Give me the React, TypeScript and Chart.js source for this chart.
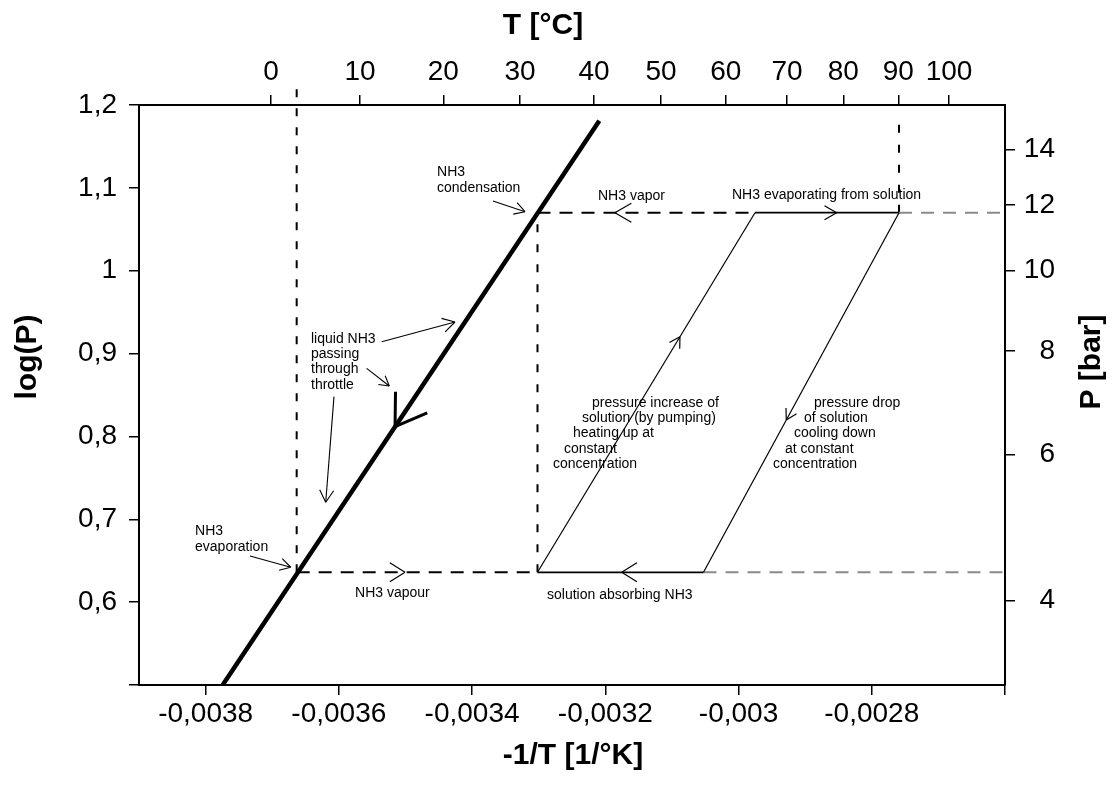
import React, { useEffect, useRef } from 'react';
import { Chart, registerables } from 'chart.js';

Chart.register(...registerables);

const FONT = '"Liberation Sans", Arial, Helvetica, sans-serif';

// ---------- axes ----------
const invTRange = [-0.0039, -0.0026]; // -1/T [1/K]
const logPRange = [0.5, 1.2];
const invTTicks = [-0.0038, -0.0036, -0.0034, -0.0032, -0.003, -0.0028, -0.0026];
const logPTicks = [0.5, 0.6, 0.7, 0.8, 0.9, 1.0, 1.1, 1.2];
const pressureBarTicks = [4, 6, 8, 10, 12, 14];
const tempCelsiusLabels = [0, 10, 20, 30, 40, 50, 60, 70, 80, 90, 100];
const tempTickInvT = [
  -0.0037018, -0.0035682, -0.0034432, -0.003328, -0.003217, -0.0031164,
  -0.0030192, -0.0029272, -0.0028427, -0.0027601, -0.002684,
];

// ---------- data ----------
// NH3 saturation line (thick)
const saturationInvT = [-0.0037744, -0.003209];
const saturationLogP = [0.5, 1.181];
// the two pressure levels of the cycle: low (evaporator/absorber), high (condenser/generator)
const cyclePressureLogP = [0.636, 1.07];
// evaporation, condensation, end of absorption, start of generation, end of generation
const cycleInvT = [-0.0036633, -0.0033018, -0.0030526, -0.0029753, -0.0027591];
// top ends of the dashed guide lines (evaporation, generator end)
const guideTopLogP = [1.2241, 1.1843];

// ---------- annotations ----------
const labelTexts = [
  'NH3', 'condensation', 'NH3 vapor', 'NH3 evaporating from solution',
  'liquid NH3', 'passing', 'through', 'throttle', 'NH3', 'evaporation',
  'NH3 vapour', 'solution absorbing NH3',
  'pressure increase of', 'solution (by pumping)', 'heating up at', 'constant', 'concentration',
  'pressure drop', 'of solution', 'cooling down', 'at constant', 'concentration',
];
const labelInvT = [
  -0.0034526, -0.0034526, -0.003211, -0.0030098,
  -0.0036418, -0.0036418, -0.0036418, -0.0036418, -0.0038159, -0.0038159,
  -0.0035757, -0.0032875,
  -0.00322, -0.003235, -0.0032485, -0.003262, -0.0032785,
  -0.0028867, -0.0029017, -0.0029167, -0.0029302, -0.0029482,
];
const labelLogP = [
  1.1191, 1.0998, 1.0902, 1.0914,
  0.9176, 0.8995, 0.8814, 0.8621, 0.6859, 0.6666,
  0.6111, 0.6086,
  0.8404, 0.8223, 0.8042, 0.7848, 0.7667,
  0.8404, 0.8223, 0.8042, 0.7848, 0.7667,
];
// leader arrows: from (x0,y0) to (x1,y1)
const leaderFromInvT = [-0.0033686, -0.0035357, -0.0035582, -0.0036073, -0.0037334];
const leaderFromLogP = [1.0841, 0.9143, 0.8822, 0.848, 0.6557];
const leaderToInvT = [-0.0033205, -0.0034256, -0.0035243, -0.0036197, -0.0036723];
const leaderToLogP = [1.0712, 0.9381, 0.8609, 0.7205, 0.6421];
const leaderHeadLen = [12, 14, 11, 14, 12];

type Pt = { x: number; y: number };
const P = (x: number, y: number): Pt => ({ x, y });
const [lo, hi] = cyclePressureLogP;
const [tEvap, tCond, tAbsEnd, tGenStart, tGenEnd] = cycleInvT;
const xEnd = invTRange[1];

const segments: Record<string, Pt[]> = {
  saturation: [P(saturationInvT[0], saturationLogP[0]), P(saturationInvT[1], saturationLogP[1])],
  evapGuide: [P(tEvap, lo), P(tEvap, guideTopLogP[0])],
  condGuide: [P(tCond, lo), P(tCond, hi)],
  genGuide: [P(tGenEnd, hi), P(tGenEnd, guideTopLogP[1])],
  lowVapour: [P(tEvap, lo), P(tCond, lo)],
  absorbing: [P(tCond, lo), P(tAbsEnd, lo)],
  lowIsobar: [P(tAbsEnd, lo), P(xEnd, lo)],
  highVapour: [P(tCond, hi), P(tGenStart, hi)],
  generating: [P(tGenStart, hi), P(tGenEnd, hi)],
  highIsobar: [P(tGenEnd, hi), P(xEnd, hi)],
  pumping: [P(tCond, lo), P(tGenStart, hi)],
  expansion: [P(tAbsEnd, lo), P(tGenEnd, hi)],
};

// flow arrows placed along segments (t = fraction, dir = +1 forward / -1 backward)
const flowArrowSeg = ['lowVapour', 'absorbing', 'highVapour', 'generating', 'pumping', 'expansion', 'saturation'];
const flowArrowT = [0.45, 0.507, 0.356, 0.567, 0.655, 0.4235, 0.4577];
const flowArrowDir = [1, -1, -1, 1, 1, -1, -1];
const flowArrowLen = [18, 18, 19, 14, 12, 12, 35];
const flowArrowWidth = [1.2, 1.2, 1.2, 1.2, 1.2, 1.2, 3];
const flowArrowAngle = [32, 32, 30, 30, 30, 30, 33];

const fmtComma = (v: number, d: number) => String(parseFloat(v.toFixed(d))).replace('.', ',');

function line(label: string, pts: Pt[], style: any) {
  return {
    label,
    data: pts,
    showLine: true,
    pointRadius: 0,
    pointHoverRadius: 0,
    borderColor: '#000',
    backgroundColor: '#000',
    borderWidth: 1.5,
    tension: 0,
    fill: false,
    ...style,
  };
}

const overlayPlugin = {
  id: 'overlay',
  afterDatasetsDraw(chart: any) {
    const ctx: CanvasRenderingContext2D = chart.ctx;
    const xs = chart.scales.x;
    const ys = chart.scales.y;
    const X = (v: number) => xs.getPixelForValue(v);
    const Y = (v: number) => ys.getPixelForValue(v);
    ctx.save();
    ctx.strokeStyle = '#000';
    ctx.fillStyle = '#000';
    ctx.setLineDash([]);
    ctx.lineCap = 'butt';

    const head = (tx: number, ty: number, dx: number, dy: number, len: number, angDeg: number, w: number) => {
      const n = Math.hypot(dx, dy);
      const ux = dx / n, uy = dy / n;
      const a = (angDeg * Math.PI) / 180;
      ctx.lineWidth = w;
      ctx.beginPath();
      for (const s of [1, -1]) {
        const c = Math.cos(a), si = Math.sin(a) * s;
        const bx = -ux * c + uy * si;
        const by = -ux * si - uy * c;
        ctx.moveTo(tx + bx * len, ty + by * len);
        ctx.lineTo(tx, ty);
      }
      ctx.stroke();
    };

    // flow arrows along segments
    flowArrowSeg.forEach((name, i) => {
      const [p0, p1] = segments[name];
      const x0 = X(p0.x), y0 = Y(p0.y), x1 = X(p1.x), y1 = Y(p1.y);
      const t = flowArrowT[i];
      const tx = x0 + (x1 - x0) * t, ty = y0 + (y1 - y0) * t;
      const d = flowArrowDir[i];
      head(tx, ty, (x1 - x0) * d, (y1 - y0) * d, flowArrowLen[i], flowArrowAngle[i], flowArrowWidth[i]);
    });

    // leader arrows
    leaderFromInvT.forEach((_, i) => {
      const fx = X(leaderFromInvT[i]), fy = Y(leaderFromLogP[i]);
      const tx = X(leaderToInvT[i]), ty = Y(leaderToLogP[i]);
      ctx.lineWidth = 1.1;
      ctx.beginPath();
      ctx.moveTo(fx, fy);
      ctx.lineTo(tx, ty);
      ctx.stroke();
      head(tx, ty, tx - fx, ty - fy, leaderHeadLen[i], 30, 1.1);
    });

    // text labels
    ctx.font = `14px ${FONT}`;
    ctx.textAlign = 'left';
    ctx.textBaseline = 'middle';
    labelTexts.forEach((txt, i) => {
      ctx.fillText(txt, X(labelInvT[i]), Y(labelLogP[i]));
    });
    ctx.restore();
  },
  afterDraw(chart: any) {
    const ctx: CanvasRenderingContext2D = chart.ctx;
    ctx.save();
    ctx.fillStyle = '#000';
    ctx.font = `bold 30px ${FONT}`;
    ctx.textAlign = 'center';
    ctx.textBaseline = 'middle';
    ctx.fillText('T [°C]', 543, 26);
    ctx.fillText('-1/T [1/°K]', 573, 756);
    const vertical = (txt: string, cx: number, cy: number) => {
      ctx.save();
      ctx.translate(cx, cy);
      ctx.rotate(-Math.PI / 2);
      ctx.fillText(txt, 0, 0);
      ctx.restore();
    };
    vertical('log(P)', 28, 357);
    vertical('P [bar]', 1092, 362);
    ctx.restore();
  },
};

export default function App() {
  const ref = useRef<HTMLCanvasElement>(null);

  useEffect(() => {
    const canvas = ref.current;
    if (!canvas) return;

    const tickFont = { family: FONT, size: 28 };
    const grid = { drawOnChartArea: false, drawTicks: true, tickLength: 10, color: '#000', lineWidth: 1.5 };
    const border = { display: true, color: '#000', width: 2 };

    const datasets = [
      line('saturation', segments.saturation, { borderWidth: 4.5 }),
      line('pumping', segments.pumping, { borderWidth: 1.2 }),
      line('expansion', segments.expansion, { borderWidth: 1.2 }),
      line('absorbing', segments.absorbing, { borderWidth: 1.8 }),
      line('generating', segments.generating, { borderWidth: 1.8 }),
      line('lowVapour', segments.lowVapour, { borderWidth: 2, borderDash: [13, 9] }),
      line('highVapour', segments.highVapour, { borderWidth: 2, borderDash: [13, 9] }),
      line('lowIsobar', segments.lowIsobar, { borderWidth: 2, borderDash: [13, 9], borderColor: '#8a8a8a' }),
      line('highIsobar', segments.highIsobar, { borderWidth: 2, borderDash: [13, 9], borderColor: '#8a8a8a' }),
      line('evapGuide', segments.evapGuide, { borderWidth: 2, borderDash: [8, 11], clip: false }),
      line('condGuide', segments.condGuide, { borderWidth: 2, borderDash: [8, 12] }),
      line('genGuide', segments.genGuide, { borderWidth: 2, borderDash: [8, 12] }),
    ];

    const chart = new Chart(canvas, {
      type: 'scatter',
      data: { datasets: datasets as any },
      options: {
        responsive: false,
        devicePixelRatio: 1,
        animation: false,
        events: [],
        layout: { padding: { left: 0, top: 0, bottom: 0, right: 59 }, autoPadding: false } as any,
        plugins: {
          legend: { display: false },
          tooltip: { enabled: false },
          title: { display: false },
        },
        scales: {
          x: {
            type: 'linear',
            position: 'bottom',
            min: invTRange[0],
            max: invTRange[1],
            bounds: 'data',
            afterBuildTicks: (s: any) => { s.ticks = invTTicks.map((v) => ({ value: v })); },
            afterFit: (s: any) => { s.height = 111; },
            ticks: {
              color: '#000', font: tickFont, padding: 2, autoSkip: false, maxRotation: 0, minRotation: 0,
              callback: (v: any) => (v === invTRange[1] ? '' : fmtComma(Number(v), 4)),
            },
            grid, border,
          },
          x2: {
            type: 'linear',
            position: 'top',
            min: invTRange[0],
            max: invTRange[1],
            bounds: 'data',
            afterBuildTicks: (s: any) => { s.ticks = tempTickInvT.map((v) => ({ value: v })); },
            afterFit: (s: any) => { s.height = 105; },
            ticks: {
              color: '#000', font: tickFont, padding: 6, autoSkip: false, maxRotation: 0, minRotation: 0,
              callback: (_v: any, i: number) => String(tempCelsiusLabels[i]),
            },
            grid, border,
          },
          y: {
            type: 'linear',
            position: 'left',
            min: logPRange[0],
            max: logPRange[1],
            bounds: 'data',
            afterBuildTicks: (s: any) => { s.ticks = logPTicks.map((v) => ({ value: v })); },
            afterFit: (s: any) => { s.width = 139; },
            ticks: {
              color: '#000', font: tickFont, padding: 12, autoSkip: false,
              callback: (v: any) => (v === logPRange[0] ? '' : fmtComma(Number(v), 1)),
            },
            grid, border,
          },
          y2: {
            type: 'linear',
            position: 'right',
            min: logPRange[0],
            max: logPRange[1],
            bounds: 'data',
            afterBuildTicks: (s: any) => { s.ticks = pressureBarTicks.map((p) => ({ value: Math.log10(p) })); },
            afterFit: (s: any) => { s.width = 50; },
            ticks: {
              color: '#000', font: tickFont, padding: 9, autoSkip: false, crossAlign: 'far',
              callback: (_v: any, i: number) => String(pressureBarTicks[i]),
            },
            grid, border,
          },
        } as any,
      },
      plugins: [overlayPlugin],
    });

    return () => chart.destroy();
  }, []);

  return (
    <div style={{ position: 'absolute', left: 0, top: 0, width: 1114, height: 796, background: '#fff' }}>
      <canvas ref={ref} width={1114} height={796} style={{ display: 'block' }} />
    </div>
  );
}
